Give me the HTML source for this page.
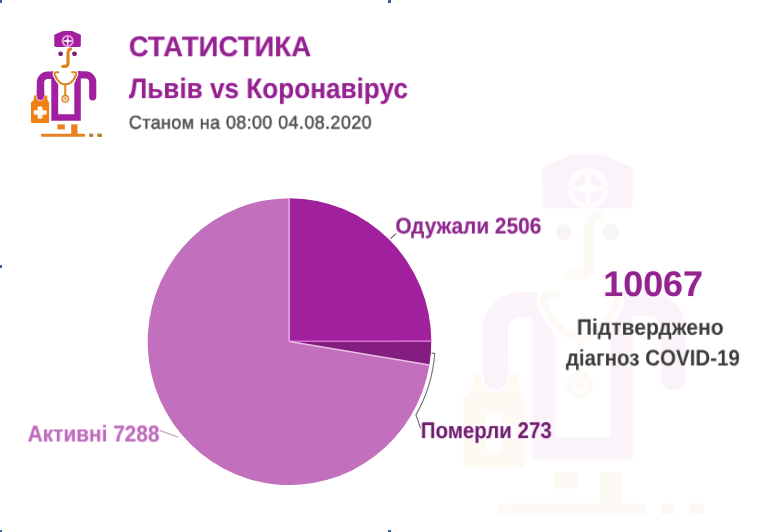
<!DOCTYPE html>
<html lang="uk">
<head>
<meta charset="utf-8">
<title>Статистика Львів vs Коронавірус</title>
<style>
  html, body { margin: 0; padding: 0; background: #ffffff; }
  body { width: 767px; height: 532px; position: relative; overflow: hidden;
         font-family: "Liberation Sans", sans-serif; }
  #stage { position: absolute; left: 0; top: 0; width: 767px; height: 532px; overflow: hidden; background: #fff; filter: blur(0.75px); }
  .t { position: absolute; white-space: nowrap; font-weight: bold; line-height: 1; transform-origin: 0 0; will-change: transform; text-rendering: geometricPrecision; }
  .h { position: absolute; background: #3a609c; filter: blur(0.5px); }
  svg { position: absolute; left: 0; top: 0; }
</style>
</head>
<body>
<div id="stage">

<!-- selection handles -->
<div class="h" style="left:-4px;top:-4px;width:6.2px;height:6.8px"></div>
<div class="h" style="left:387.8px;top:-4px;width:3.3px;height:6.7px"></div>
<div class="h" style="left:-4px;top:264.9px;width:6.2px;height:3.2px"></div>
<div class="h" style="left:-4px;top:529.6px;width:6.2px;height:7px"></div>
<div class="h" style="left:387.8px;top:529.7px;width:3.3px;height:7px"></div>

<svg width="767" height="532" viewBox="0 0 767 532">
  <defs>
    <g id="doc">
      <!-- hat -->
      <path d="M54.2 35.6 Q54.2 34.9 54.9 34.5 L62.2 31.3 Q62.9 31 63.6 31 L71.4 31 Q72.1 31 72.8 31.3 L80.2 34.5 Q80.9 34.9 80.9 35.6 L80.8 45.6 Q80.8 46.9 79.5 46.9 L55.6 46.9 Q54.3 46.9 54.3 45.6 Z" fill="#a21fa0"/>
      <circle cx="67.7" cy="41" r="4.6" fill="#8d1a8a"/>
      <circle cx="67.7" cy="41" r="5.1" fill="none" stroke="#ee9fe7" stroke-width="1.9"/>
      <path d="M67.7 37 L68.35 40.35 L71.7 41 L68.35 41.65 L67.7 45 L67.05 41.65 L63.7 41 L67.05 40.35 Z" fill="#fbeafa" stroke="#fbeafa" stroke-width="0.9" stroke-linejoin="round"/><circle cx="67.7" cy="41" r="1.3" fill="#ffffff"/>
      <!-- eyes -->
      <circle cx="60.6" cy="53.85" r="2.35" fill="#7d1d78"/>
      <circle cx="74.5" cy="53.85" r="2.45" fill="#7d1d78"/>
      <!-- nose -->
      <path d="M70.6 48.9 Q68 49.8 68 53.5 L68 63 Q68 66.4 64.6 66.4 L62.9 66.4" fill="none" stroke="#e07f1c" stroke-width="3.1" stroke-linecap="round" stroke-linejoin="round"/>
      <!-- left arm -->
      <path d="M40.5 99.2 L40.5 82.4 A7.2 7.2 0 0 1 47.7 75.2 L56 75.2" fill="none" stroke="#a21fa0" stroke-width="7.4" stroke-linecap="butt"/>
      <!-- right arm -->
      <path d="M77 74.9 L85.5 74.9 A7.2 7.2 0 0 1 92.7 82.1 L92.7 96.8" fill="none" stroke="#a21fa0" stroke-width="7.2" stroke-linecap="round"/>
      <!-- coat -->
      <path d="M51.3 80 L51.3 71.5 L53.2 71.5 Q55 80 58.2 84.6 L58.2 114.3 L74.3 114.3 L74.3 83.4 Q76.8 79 77.8 71.3 L80.8 71.3 L80.8 120.7 L51.3 120.7 Z" fill="#a21fa0"/>
      <!-- stethoscope -->
      <path id="st" d="M58.3 72.2 L56.3 72.2 Q54 72.5 54.8 74.8 Q56.8 80 60 82.6 Q62.4 84.4 65.4 84.4 Q68.4 84.4 70.8 82.6 Q74 80 76.1 74.8 Q76.9 72.5 74.6 72.2 L72.2 72.2" fill="none" stroke="#ffffff" stroke-width="4.2" stroke-linecap="round" stroke-linejoin="round"/>
      <path d="M58.3 72.2 L56.3 72.2 Q54 72.5 54.8 74.8 Q56.8 80 60 82.6 Q62.4 84.4 65.4 84.4 Q68.4 84.4 70.8 82.6 Q74 80 76.1 74.8 Q76.9 72.5 74.6 72.2 L72.2 72.2" fill="none" stroke="#de8524" stroke-width="2.1" stroke-linecap="round" stroke-linejoin="round"/>
      <path d="M65.3 84.2 L65.2 95.5" fill="none" stroke="#de8524" stroke-width="2"/>
      <circle cx="65.3" cy="98.8" r="3.3" fill="#f8dcc0" stroke="#de8524" stroke-width="1.3"/>
      <circle cx="65.3" cy="98.6" r="1.0" fill="#de8524"/>
      <!-- bag -->
      <path d="M34 95.6 L36.4 95.6 L36.4 97.5 Q36.6 100.8 40 100.8 Q43.3 100.8 43.5 97.5 L43.5 95.6 L47.2 95.6 L47.4 100 L49.1 102.4 L49.1 122.1 Q49.1 123 48.2 123 L31.9 123 Q31 123 31 122.1 L31 102.4 L33.8 100 Z" fill="#f08010"/>
      <path d="M38.7 106.6 L41.4 106.6 Q42.5 106.6 42.5 107.7 L42.5 110.2 L45.6 110.2 Q46.7 110.2 46.7 111.3 L46.7 113.6 Q46.7 114.7 45.6 114.7 L42.5 114.7 L42.5 117.7 Q42.5 118.8 41.4 118.8 L38.7 118.8 Q37.6 118.8 37.6 117.7 L37.6 114.7 L34.8 114.7 Q33.7 114.7 33.7 113.6 L33.7 111.3 Q33.7 110.2 34.8 110.2 L37.6 110.2 L37.6 107.7 Q37.6 106.6 38.7 106.6 Z" fill="#fffaf0"/>
      <!-- arm end over bag -->
      <path d="M36.8 95 L36.8 97 Q36.8 100.4 40.5 100.4 Q44.2 100.4 44.2 97 L44.2 95 Z" fill="#a21fa0" stroke="#f7d8d8" stroke-width="0.7"/>
      <rect x="36.8" y="90" width="7.4" height="6" fill="#a21fa0"/>
      <!-- feet & ground -->
      <rect x="57.4" y="124.4" width="7.4" height="5" fill="#e8821e"/>
      <rect x="71.2" y="124.4" width="6.3" height="10" fill="#e8821e"/>
      <rect x="41" y="133.7" width="44" height="3.1" rx="1" fill="#e8821e"/>
      <rect x="89.2" y="133.6" width="3.9" height="3.3" fill="#b9782c"/>
      <rect x="97.4" y="133.6" width="4.4" height="3.3" fill="#b9782c"/>
    </g>
  </defs>

  <!-- watermark -->
  <g opacity="0.042" transform="translate(357.8,49.1) scale(3.4)">
    <use href="#doc"/>
  </g>

  <!-- icon -->
  <use href="#doc"/>

  <!-- pie -->
  <g id="pie">
    <path d="M289.5 341.6 L429.40 364.97 A141.8 143.4 0 1 1 289.50 198.20 Z" fill="#c270be"/>
    <path d="M289.5 341.6 L289.50 198.20 A141.8 143.4 0 0 1 431.30 340.64 Z" fill="#a1209d"/>
    <path d="M289.5 341.6 L431.30 340.64 A141.8 143.4 0 0 1 429.40 364.97 Z" fill="#851c80"/>
    <path d="M289.1 198.4 L289.1 341.6" stroke="#dfa0dc" stroke-width="1.7" fill="none"/>
    <path d="M289.5 341.30 L431.30 341.24" stroke="#d46fd0" stroke-width="1.6" fill="none"/>
    <path d="M289.5 341.6 L429.40 364.97" stroke="#e9bfe6" stroke-width="1.5" fill="none"/>
  </g>
  <!-- leader lines -->
  <path d="M390.5 238.6 L396.1 233.6" stroke="#6f5c6e" stroke-width="1.2" fill="none"/>
  <path d="M431.5 353.3 L434.8 353.3 A146 147 0 0 1 416 414.9 L420.5 428.2" stroke="#857085" stroke-width="1.2" fill="none" stroke-linejoin="round"/>
  <path d="M159.6 430.4 L178.4 437.2" stroke="#c2a2c0" stroke-width="1.2" fill="none"/>
</svg>

<!--TEXT-START-->
<div class="t" id="t1" style="left:128px;top:32px;font-size:28.5px;color:#92238f;font-weight:bold;letter-spacing:0.0px;transform:translate(0.74px,1.20px) scaleX(0.9688);text-shadow:0 0 1.2px rgba(240,150,240,0.75);">СТАТИСТИКА</div>
<div class="t" id="t2" style="left:128px;top:74px;font-size:28.2px;color:#92238f;font-weight:bold;letter-spacing:0.0px;transform:translate(0.89px,0.10px) scaleX(0.9274);text-shadow:0 0 1.2px rgba(240,150,240,0.75);">Львів vs Коронавірус</div>
<div class="t" id="t3" style="left:128px;top:113px;font-size:18.7px;color:#4c4c4c;font-weight:normal;letter-spacing:0.4px;transform:translate(0.78px,0.64px) scaleX(0.9621);-webkit-text-stroke:0.45px #4c4c4c;">Станом на 08:00 04.08.2020</div>
<div class="t" id="t4" style="left:395px;top:214px;font-size:22.6px;color:#892a88;font-weight:bold;letter-spacing:0.0px;transform:translate(0.37px,1.50px) scaleX(0.9233);text-shadow:0 0 1.2px rgba(240,150,240,0.7);">Одужали 2506</div>
<div class="t" id="t5" style="left:420px;top:418px;font-size:22.9px;color:#6d1f6c;font-weight:bold;letter-spacing:0.0px;transform:translate(0.76px,1.10px) scaleX(0.8942);text-shadow:0 0 1.2px rgba(240,150,240,0.7);">Померли 273</div>
<div class="t" id="t6" style="left:27px;top:422px;font-size:22.9px;color:#bd6dba;font-weight:bold;letter-spacing:0.0px;transform:translate(0.63px,0.50px) scaleX(0.9108);text-shadow:0 0 1.2px rgba(240,150,240,0.7);">Активні 7288</div>
<div class="t" id="t7" style="left:604px;top:265px;font-size:35.6px;color:#92238f;font-weight:bold;letter-spacing:0.0px;transform:translate(-0.70px,1.80px) scaleX(1.0072);text-shadow:0 0 1.2px rgba(240,150,240,0.75);">10067</div>
<div class="t" id="t8" style="left:577px;top:315px;font-size:22.4px;color:#3c3c3c;font-weight:bold;letter-spacing:0.0px;transform:translate(-0.21px,1.70px) scaleX(0.9418);">Підтверджено</div>
<div class="t" id="t9" style="left:564px;top:346px;font-size:22.5px;color:#3c3c3c;font-weight:bold;letter-spacing:0.0px;transform:translate(1.88px,1.50px) scaleX(0.9119);">діагноз COVID-19</div>
<!--TEXT-END-->

</div>
</body>
</html>
